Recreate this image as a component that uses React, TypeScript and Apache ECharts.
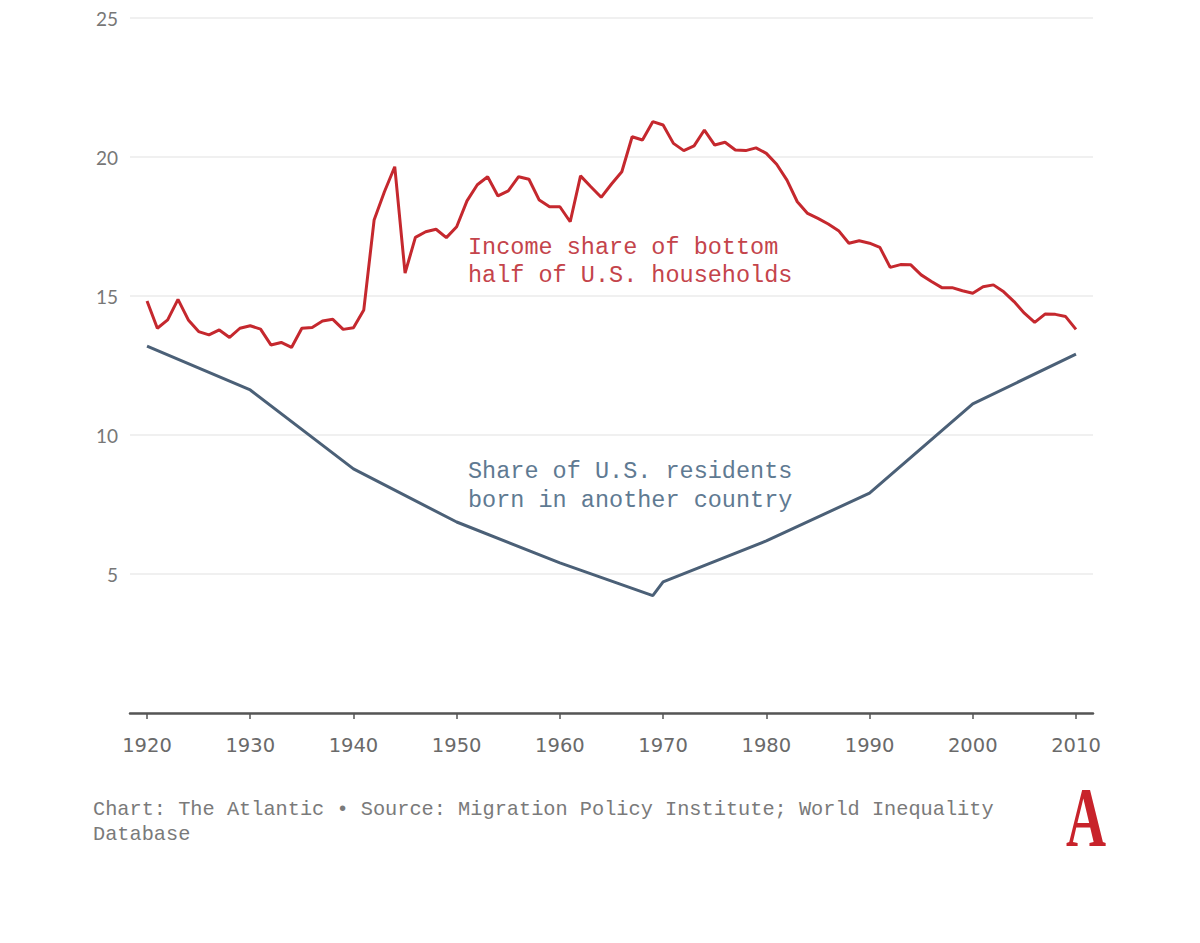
import React, { useEffect, useRef } from "react";
import * as echarts from "echarts";

const incomeYears: number[] = [
  1920, 1921, 1922, 1923, 1924, 1925, 1926, 1927, 1928, 1929,
  1930, 1931, 1932, 1933, 1934, 1935, 1936, 1937, 1938, 1939,
  1940, 1941, 1942, 1943, 1944, 1945, 1946, 1947, 1948, 1949,
  1950, 1951, 1952, 1953, 1954, 1955, 1956, 1957, 1958, 1959,
  1960, 1961, 1962, 1963, 1964, 1965, 1966, 1967, 1968, 1969,
  1970, 1971, 1972, 1973, 1974, 1975, 1976, 1977, 1978, 1979,
  1980, 1981, 1982, 1983, 1984, 1985, 1986, 1987, 1988, 1989,
  1990, 1991, 1992, 1993, 1994, 1995, 1996, 1997, 1998, 1999,
  2000, 2001, 2002, 2003, 2004, 2005, 2006, 2007, 2008, 2009,
  2010,
];
const incomeShare: number[] = [
  14.82, 13.84, 14.14, 14.88, 14.14, 13.72, 13.6, 13.78, 13.51, 13.84,
  13.93, 13.81, 13.24, 13.33, 13.15, 13.84, 13.87, 14.1, 14.16, 13.8,
  13.86, 14.5, 17.73, 18.75, 19.65, 15.82, 17.11, 17.31, 17.4, 17.1,
  17.49, 18.42, 19.0, 19.29, 18.6, 18.78, 19.29, 19.2, 18.45, 18.21,
  18.21, 17.67, 19.32, 18.93, 18.55, 19.03, 19.47, 20.73, 20.61, 21.27,
  21.15, 20.49, 20.23, 20.4, 20.97, 20.43, 20.53, 20.25, 20.23, 20.33,
  20.13, 19.74, 19.17, 18.39, 17.97, 17.79, 17.59, 17.35, 16.9, 16.99,
  16.9, 16.75, 16.03, 16.13, 16.12, 15.76, 15.52, 15.3, 15.3, 15.19,
  15.1, 15.33, 15.4, 15.15, 14.8, 14.38, 14.05, 14.35, 14.34, 14.26,
  13.8,
];
const foreignYears: number[] = [1920, 1930, 1940, 1950, 1960, 1969, 1970, 1980, 1990, 2000, 2010];
const foreignShare: number[] = [13.2, 11.62, 8.78, 6.87, 5.4, 4.22, 4.72, 6.19, 7.91, 11.12, 12.91];
const xTickYears: number[] = [1920, 1930, 1940, 1950, 1960, 1970, 1980, 1990, 2000, 2010];
const yTicks: number[] = [5, 10, 15, 20, 25];

const RED = "#c5282e";
const BLUE = "#4b6077";
const MONO = "'Liberation Mono', 'Courier New', monospace";

export default function App() {
  const ref = useRef<HTMLDivElement>(null);
  useEffect(() => {
    if (!ref.current) return;
    const chart = echarts.init(ref.current, null, { renderer: "svg" });
    const incomeData = incomeYears.map((y, i) => [y, incomeShare[i]]);
    const foreignData = foreignYears.map((y, i) => [y, foreignShare[i]]);
    chart.setOption({
      animation: false,
      backgroundColor: "#ffffff",
      grid: { left: 130, right: 107, top: 18, bottom: 230 },
      xAxis: {
        type: "value",
        min: 1918.35,
        max: 2011.65,
        splitLine: { show: false },
        axisLine: { show: true, lineStyle: { color: "#555", width: 2.5 } },
        axisTick: {
          show: true,
          customValues: xTickYears,
          length: 6,
          lineStyle: { color: "#555", width: 1.5 },
        },
        axisLabel: {
          customValues: xTickYears,
          color: "#6a6a6a",
          fontFamily: "'DejaVu Sans', sans-serif",
          fontSize: 19.5,
          margin: 22,
          formatter: (v: number) => String(v),
        },
      },
      yAxis: {
        type: "value",
        min: 0,
        max: 25,
        interval: 5,
        axisLine: { show: false },
        axisTick: { show: false },
        splitLine: {
          show: true,
          lineStyle: { color: "#ebebeb", width: 1.5 },
        },
        axisLabel: {
          color: "#777",
          fontFamily: "Lato, 'Noto Sans', sans-serif",
          fontSize: 19,
          margin: 12,
          formatter: (v: number) => (yTicks.includes(v) ? String(v) : ""),
        },
      },
      series: [
        {
          type: "line",
          data: incomeData,
          showSymbol: false,
          symbol: "none",
          lineStyle: { color: RED, width: 3 },
          z: 3,
        },
        {
          type: "line",
          data: foreignData,
          showSymbol: false,
          symbol: "none",
          lineStyle: { color: BLUE, width: 3 },
          z: 2,
        },
      ],
      graphic: [
        {
          type: "text",
          left: 468,
          top: 233,
          style: {
            text: "Income share of bottom\nhalf of U.S. households",
            fill: "#c4444b",
            font: `23.5px ${MONO}`,
            lineHeight: 28,
          },
        },
        {
          type: "text",
          left: 468,
          top: 457,
          style: {
            text: "Share of U.S. residents\nborn in another country",
            fill: "#5f7a92",
            font: `23.5px ${MONO}`,
            lineHeight: 29,
          },
        },
        {
          type: "text",
          left: 93,
          top: 797,
          style: {
            text: "Chart: The Atlantic \u2022 Source: Migration Policy Institute; World Inequality\nDatabase",
            fill: "#7a7a7a",
            font: `20.3px ${MONO}`,
            lineHeight: 25,
          },
        },
        {
          type: "text",
          x: 1066,
          y: 776,
          scaleX: 0.66,
          style: {
            text: "A",
            fill: "#c8232b",
            font: "bold 84px 'Liberation Serif', 'DejaVu Serif', serif",
            textVerticalAlign: "top",
          },
        },
      ],
    });
    return () => chart.dispose();
  }, []);
  return (
    <div
      ref={ref}
      style={{ position: "fixed", left: 0, top: 0, width: 1200, height: 943, background: "#fff" }}
    />
  );
}
